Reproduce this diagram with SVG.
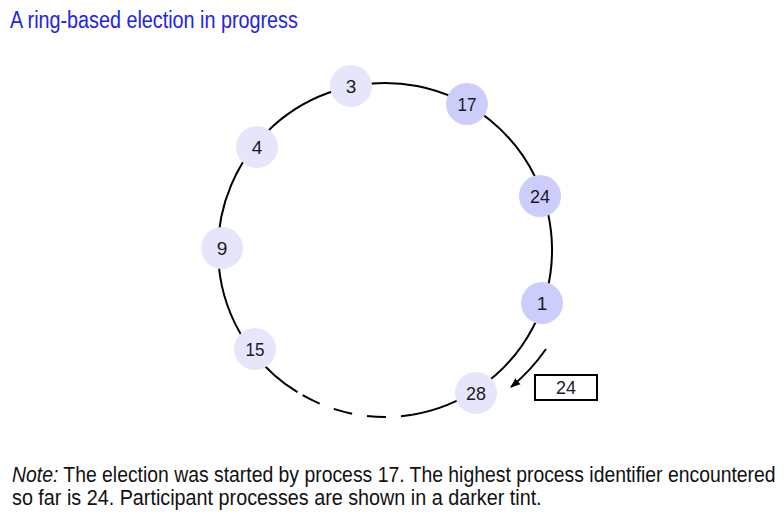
<svg xmlns="http://www.w3.org/2000/svg" width="784" height="532" viewBox="0 0 784 532">
<style>
.ring{fill:none;stroke:#000;stroke-width:2}
.light{fill:#e6e6fb}
.dark{fill:#cdcdfb}
.lbl{font-family:"Liberation Sans Narrow","Liberation Sans",Arial,sans-serif;font-size:19px;fill:#1a1a2a;text-anchor:middle;dominant-baseline:central}
.note{font-family:"Liberation Sans Narrow","Liberation Sans",Arial,sans-serif;font-size:22px;fill:#111}
</style>
<defs>
<marker id="ah" markerWidth="10" markerHeight="10" refX="9" refY="5" orient="auto" markerUnits="userSpaceOnUse">
<path d="M0,1 L10,5 L0,9 Z" fill="#000"/>
</marker>
</defs>
<rect width="784" height="532" fill="#fff"/>
<text transform="translate(10,28) scale(0.82,1)" x="0" y="0" font-family="'Liberation Sans Narrow','Liberation Sans',Arial,sans-serif" font-size="23" fill="#2323e8" textLength="351" lengthAdjust="spacingAndGlyphs">A ring-based election in progress</text>
<g id="connectors">
<path class="ring" d="M 297.5 392.2 A 167 167 0 1 1 412.5 414.7"/>
<path class="ring" d="M 297.5 392.2 A 167 167 0 0 0 412.5 414.7" stroke-dasharray="19 15" stroke-dashoffset="-6"/>
<path class="ring" d="M 546 349 A 188 188 0 0 1 511 387" marker-end="url(#ah)"/>
</g>
<g id="n3"><circle class="light" cx="351" cy="86" r="21"/><text class="lbl" x="351" y="86">3</text></g>
<g id="n17"><circle class="dark" cx="467" cy="104" r="21"/><text class="lbl" x="467" y="104" textLength="19" lengthAdjust="spacingAndGlyphs">17</text></g>
<g id="n24"><circle class="dark" cx="540" cy="196" r="21"/><text class="lbl" x="540" y="196" textLength="20" lengthAdjust="spacingAndGlyphs">24</text></g>
<g id="n1"><circle class="dark" cx="542" cy="303" r="21"/><text class="lbl" x="542" y="303">1</text></g>
<g id="n28"><circle class="light" cx="476" cy="393" r="21"/><text class="lbl" x="476" y="393" textLength="20" lengthAdjust="spacingAndGlyphs">28</text></g>
<g id="n15"><circle class="light" cx="255" cy="349" r="21"/><text class="lbl" x="255" y="349" textLength="19" lengthAdjust="spacingAndGlyphs">15</text></g>
<g id="n9"><circle class="light" cx="222" cy="248" r="21"/><text class="lbl" x="222" y="248">9</text></g>
<g id="n4"><circle class="light" cx="257" cy="147" r="21"/><text class="lbl" x="257" y="147">4</text></g>
<g id="msg"><rect x="535" y="375" width="62" height="25" fill="#fff" stroke="#000" stroke-width="2"/><text class="lbl" x="566" y="387.5" textLength="20" lengthAdjust="spacingAndGlyphs">24</text></g>
<text class="note" transform="translate(12,482) scale(0.78,1)" x="0" y="0" textLength="979" lengthAdjust="spacingAndGlyphs"><tspan font-style="italic">Note:</tspan> The election was started by process 17. The highest process identifier encountered</text>
<text class="note" transform="translate(12,505) scale(0.78,1)" x="0" y="0" textLength="679" lengthAdjust="spacingAndGlyphs">so far is 24. Participant processes are shown in a darker tint.</text>
</svg>
